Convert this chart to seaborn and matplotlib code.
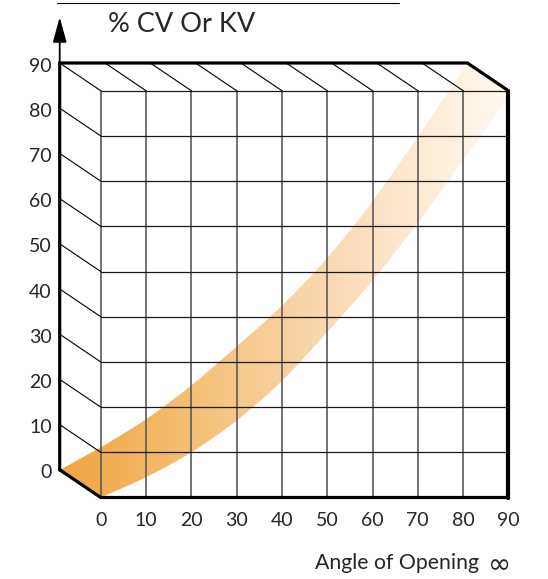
import numpy as np
import matplotlib
matplotlib.use("Agg")
import matplotlib.pyplot as plt
from matplotlib.colors import LinearSegmentedColormap
from matplotlib.patches import Polygon, PathPatch
from matplotlib.path import Path
import seaborn as sns

# ── Data ──────────────────────────────────────────────────────
angle_ticks = [0, 10, 20, 30, 40, 50, 60, 70, 80, 90]
value_ticks = [0, 10, 20, 30, 40, 50, 60, 70, 80, 90]

# band edges, in front-face units (angle, % value)
band_tip = (-9.0, 6.1)
upper_angle = [0, 10, 20, 30, 40, 50, 60, 70, 80, 84]
upper_value = [11.1, 17.3, 24.8, 33.4, 42.4, 53.0, 65.5, 79.8, 94.5, 100.5]
lower_angle = [0, 10, 20, 30, 40, 50, 60, 70, 80, 90]
lower_value = [0.0, 4.5, 10.0, 17.0, 25.8, 36.6, 48.0, 60.8, 74.6, 88.7]

title = "% CV Or KV"
xlabel = "Angle of Opening"
xlabel_sign = "\u221e"

# ── Style ─────────────────────────────────────────────────────
sns.set_theme(style="white")
plt.rcParams["font.family"] = ["Lato", "DejaVu Sans"]

DX, DY = -9.05, 6.13          # depth offset of the back wall
band_cmap = LinearSegmentedColormap.from_list(
    "band", ["#efa543", "#f4bb6c", "#f8d19f", "#fce6cc", "#fff9f2"])


def smooth_segments(pts):
    """Catmull-Rom through pts -> cubic bezier vertices (without the start point)."""
    pts = np.asarray(pts, float)
    n = len(pts)
    verts = []
    for i in range(n - 1):
        p0 = pts[max(i - 1, 0)]
        p1, p2 = pts[i], pts[i + 1]
        p3 = pts[min(i + 2, n - 1)]
        verts += [p1 + (p2 - p0) / 6, p2 - (p3 - p1) / 6, p2]
    return verts


fig = plt.figure(figsize=(5.48, 5.79), dpi=100)
ax = fig.add_axes([0, 0, 1, 1])

# ── Band (gradient clipped to band shape) ─────────────────────
upper = list(zip(upper_angle, upper_value))
lower = list(zip(lower_angle, lower_value))
verts = [band_tip, upper[0]]
codes = [Path.MOVETO, Path.LINETO]
up_v = smooth_segments(upper)
verts += up_v
codes += [Path.CURVE4] * len(up_v)
verts.append(lower[-1])
codes.append(Path.LINETO)
lo_v = smooth_segments(lower[::-1])
verts += lo_v
codes += [Path.CURVE4] * len(lo_v)
verts += [band_tip, band_tip]
codes += [Path.LINETO, Path.CLOSEPOLY]
band = PathPatch(Path(verts, codes), facecolor="none", edgecolor="none")
ax.add_patch(band)

grad = np.linspace(0, 1, 300).reshape(1, -1)
img = ax.imshow(grad, extent=[DX, 90, -2, 106], aspect="auto", cmap=band_cmap,
                origin="lower", zorder=1, interpolation="bilinear")
img.set_clip_path(band)

# mask the band outside the box at top right
ax.add_patch(Polygon([(0, 90 + DY), (90 + DX, 90 + DY), (90, 90), (100, 90),
                      (100, 108), (0, 108)], closed=True,
                     facecolor="white", edgecolor="none", zorder=1.5))

# ── Grid ──────────────────────────────────────────────────────
for a in angle_ticks[:-1]:
    ax.plot([a, a], [0, 90], color="#5a5a5a", lw=1.2, zorder=3)
for v in value_ticks[1:]:
    ax.plot([0, 90], [v, v], color="#1a1a1a", lw=0.9, zorder=3)
for v in value_ticks[1:]:
    ax.plot([DX, 0], [v + DY, v], color="black", lw=0.8, zorder=3)
for a in angle_ticks[1:-1]:
    ax.plot([a + DX, a], [90 + DY, 90], color="black", lw=0.8, zorder=3)

# thick outline
ox = [DX, 0, 90, 90, 90 + DX, DX, DX]
oy = [DY, 0, 0, 90, 90 + DY, 90 + DY, DY]
ax.plot(ox, oy, color="black", lw=2.3, zorder=4, solid_joinstyle="miter")
ax.plot([90, 90], [0, 90], color="black", lw=3.0, zorder=4)

# y arrow and top rule
ax.annotate("", xy=(DX, 106.3), xytext=(DX, 90 + DY),
            arrowprops=dict(arrowstyle="-|>,head_length=1.1,head_width=0.3",
                            color="black", lw=1.3, mutation_scale=14,
                            shrinkA=0, shrinkB=0), zorder=4)
ax.plot([-9.6, 65.9], [109.3, 109.3], color="black", lw=0.8)

# ── Text ──────────────────────────────────────────────────────
for v in value_ticks:
    ax.text(-10.8, v + DY - 0.7, str(v), ha="right", va="center", fontsize=14)
for a in angle_ticks:
    ax.text(a, -5.0, str(a), ha="center", va="center", fontsize=14)
ax.text(1.6, 104.7, title, ha="left", va="center", fontsize=19.5)
ax.text(83.4, -14.6, xlabel, ha="right", va="center", fontsize=15.3)
ax.text(90.5, -14.4, xlabel_sign, ha="right", va="center_baseline", fontsize=20,
        family="DejaVu Sans")

ax.set_xlim(-22.23, 98.74)
ax.set_ylim(-18.03, 110.07)
ax.axis("off")

fig.savefig("out.png", dpi=100, facecolor="white")
